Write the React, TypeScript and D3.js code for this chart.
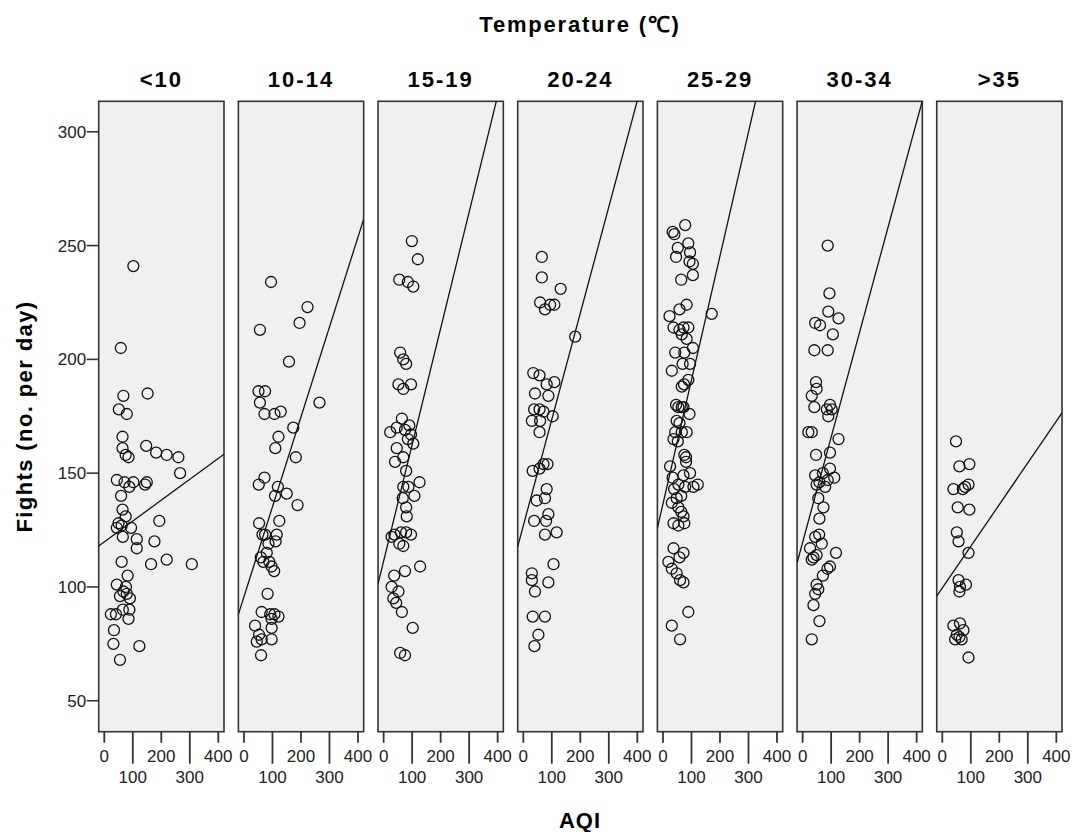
import React from 'react';
import * as d3 from 'd3';

// temperature bands (one panel each)
const bands = ['<10', '10-14', '15-19', '20-24', '25-29', '30-34', '>35'];

// [AQI, fights per day]
const below10 = [
  [102, 241], [58, 205], [152, 185], [67, 184], [51, 178], [79, 176], [64, 166], [64, 161],
  [75, 158], [85, 157], [147, 162], [182, 159], [219, 158], [260, 157], [266, 150], [44, 147],
  [71, 146], [102, 146], [88, 144], [149, 146], [143, 145], [59, 140], [64, 134], [75, 131],
  [50, 128], [44, 126], [61, 127], [94, 126], [65, 122], [114, 121], [193, 129], [176, 120],
  [114, 117], [219, 112], [164, 110], [307, 110], [61, 111], [82, 105], [44, 101], [76, 100],
  [67, 98], [79, 97], [55, 96], [90, 95], [23, 88], [41, 88], [65, 90], [88, 90], [85, 86],
  [34, 81], [32, 75], [123, 74], [55, 68],
];
const band10to14 = [
  [95, 234], [223, 223], [195, 216], [56, 213], [158, 199], [51, 186], [74, 186], [56, 181],
  [129, 177], [107, 176], [72, 176], [265, 181], [173, 170], [121, 166], [110, 161], [182, 157],
  [72, 148], [52, 145], [119, 144], [109, 140], [150, 141], [188, 136], [124, 129], [53, 128],
  [65, 123], [74, 123], [115, 123], [111, 120], [86, 119], [80, 115], [59, 113], [68, 111],
  [97, 109], [106, 107], [89, 111], [83, 97], [62, 89], [92, 88], [107, 88], [97, 86], [121, 87],
  [39, 83], [97, 82], [53, 79], [62, 77], [45, 76], [97, 77], [60, 70],
];
const band15to19 = [
  [99, 252], [120, 244], [55, 235], [85, 234], [104, 232], [58, 203], [69, 200], [79, 198],
  [52, 189], [69, 187], [96, 189], [64, 174], [90, 171], [23, 168], [46, 170], [75, 169],
  [96, 167], [85, 165], [104, 163], [46, 161], [69, 157], [40, 155], [79, 151], [69, 144],
  [87, 144], [126, 146], [108, 140], [67, 139], [79, 135], [81, 131], [38, 123], [61, 124],
  [79, 124], [96, 123], [28, 122], [69, 118], [55, 119], [128, 109], [75, 107], [37, 105],
  [28, 100], [52, 98], [34, 95], [44, 93], [64, 89], [102, 82], [58, 71], [75, 70],
];
const band20to24 = [
  [65, 245], [65, 236], [131, 231], [59, 225], [76, 222], [94, 224], [109, 224], [182, 210],
  [35, 194], [57, 193], [109, 190], [82, 189], [41, 185], [88, 184], [38, 178], [57, 178],
  [71, 177], [30, 173], [59, 173], [103, 175], [57, 168], [71, 154], [85, 154], [33, 151],
  [57, 152], [82, 143], [76, 139], [47, 138], [88, 132], [80, 129], [38, 129], [117, 124],
  [76, 123], [106, 110], [30, 106], [30, 103], [88, 102], [41, 98], [33, 87], [76, 87],
  [53, 79], [39, 74],
];
const band25to29 = [
  [78, 259], [34, 256], [40, 255], [89, 251], [52, 249], [95, 247], [46, 245], [105, 242],
  [93, 243], [64, 235], [105, 237], [83, 224], [58, 222], [23, 219], [171, 220], [37, 214],
  [58, 213], [72, 214], [89, 214], [66, 211], [83, 209], [105, 205], [43, 203], [75, 203],
  [69, 198], [31, 195], [95, 198], [89, 191], [74, 189], [66, 188], [46, 180], [54, 179],
  [66, 179], [72, 179], [93, 176], [48, 173], [58, 172], [43, 168], [66, 168], [83, 168],
  [37, 165], [52, 164], [75, 158], [81, 157], [81, 155], [95, 150], [72, 149], [54, 145],
  [78, 144], [107, 144], [122, 145], [25, 153], [34, 148], [39, 143], [48, 139], [64, 140],
  [31, 137], [54, 135], [64, 133], [72, 131], [37, 128], [54, 127], [75, 128], [37, 117],
  [72, 115], [58, 113], [19, 111], [31, 108], [48, 106], [60, 103], [72, 102], [89, 89],
  [31, 83], [60, 77],
];
const band30to34 = [
  [88, 250], [94, 229], [90, 221], [126, 218], [44, 216], [61, 215], [106, 211], [41, 204],
  [88, 204], [47, 190], [49, 187], [32, 184], [41, 179], [85, 178], [96, 180], [102, 178],
  [90, 175], [20, 168], [32, 168], [126, 165], [47, 158], [96, 159], [44, 149], [71, 150],
  [96, 152], [111, 148], [88, 147], [59, 146], [79, 144], [49, 145], [55, 139], [73, 135],
  [59, 130], [58, 123], [44, 122], [67, 119], [26, 117], [38, 113], [49, 114], [117, 115],
  [32, 112], [96, 109], [87, 108], [71, 105], [49, 101], [55, 99], [44, 97], [38, 92],
  [59, 85], [32, 77],
];
const above35 = [
  [48, 164], [60, 153], [95, 154], [39, 143], [72, 143], [80, 144], [92, 145], [54, 135],
  [95, 134], [51, 124], [57, 120], [92, 115], [57, 103], [62, 100], [83, 101], [60, 98],
  [39, 83], [62, 84], [51, 79], [74, 81], [68, 77], [45, 77], [60, 78], [92, 69],
];
const bandPoints = [below10, band10to14, band15to19, band20to24, band25to29, band30to34, above35];

// linear fit per band: fights = intercept + slope * AQI
const fitIntercepts = [119.8, 95.7, 111.4, 126.9, 136.5, 119.6, 99.6];
const fitSlopes = [0.0917, 0.395, 0.511, 0.467, 0.5446, 0.462, 0.183];

const xTicks = [0, 100, 200, 300, 400];
const yTicks = [50, 100, 150, 200, 250, 300];

const X0 = 98.7;
const STEP = 139.67;
const PW = 125.3;
const TOP = 101.3;
const BOTTOM = 731.7;
const FONT = '"Liberation Sans", Arial, sans-serif';

export default function App() {
  const x = d3.scaleLinear().domain([-19.6, 420]).range([0, PW]);
  const y = d3.scaleLinear().domain([36.4, 313.4]).range([BOTTOM, TOP]);
  const [xMin, xMax] = x.domain();

  return (
    <svg
      width={1072}
      height={832}
      style={{ position: 'absolute', left: 0, top: 0, background: '#fff' }}
      fontFamily={FONT}
    >
      <defs>
        <clipPath id="panel-clip">
          <rect x={0} y={TOP} width={PW} height={BOTTOM - TOP} />
        </clipPath>
      </defs>

      <text x={580} y={32} textAnchor="middle" fontWeight="bold" fontSize={22} letterSpacing={1.8}>
        Temperature (℃)
      </text>

      {/* y axis sits on the first panel only */}
      {yTicks.map(t => (
        <g key={t}>
          <line x1={X0 - 12} x2={X0} y1={y(t)} y2={y(t)} stroke="#333" strokeWidth={1.6} />
          <text x={X0 - 12.5} y={y(t) + 6} textAnchor="end" fontSize={17} fill="#222">
            {t}
          </text>
        </g>
      ))}
      <text
        transform={`translate(32 ${(TOP + BOTTOM) / 2}) rotate(-90)`}
        textAnchor="middle"
        fontWeight="bold"
        fontSize={22}
        letterSpacing={1.4}
      >
        Fights (no. per day)
      </text>

      {bands.map((band, k) => {
        const left = X0 + k * STEP;
        const pts = bandPoints[k];
        const a = fitIntercepts[k];
        const b = fitSlopes[k];
        const linePath = d3
          .line<number>()
          .x(d => x(d))
          .y(d => y(a + b * d))([xMin, xMax]);
        return (
          <g key={band} transform={`translate(${left} 0)`}>
            <text x={PW / 2} y={86.5} textAnchor="middle" fontWeight="bold" fontSize={22} letterSpacing={2}>
              {band}
            </text>
            <rect x={0} y={TOP} width={PW} height={BOTTOM - TOP} fill="#f0f0f0" stroke="#333" strokeWidth={1.6} />
            <g clipPath="url(#panel-clip)">
              {pts.map((p, i) => (
                <circle key={i} cx={x(p[0])} cy={y(p[1])} r={5.5} fill="none" stroke="#111" strokeWidth={1.3} />
              ))}
              <path d={linePath ?? ''} fill="none" stroke="#111" strokeWidth={1.3} />
            </g>
            {xTicks.map((t, i) => {
              const long = i % 2 === 1;
              return (
                <g key={t}>
                  <line
                    x1={x(t)}
                    x2={x(t)}
                    y1={BOTTOM}
                    y2={BOTTOM + (long ? 32 : 11)}
                    stroke="#333"
                    strokeWidth={1.8}
                  />
                  <text x={x(t)} y={long ? 783 : 762} textAnchor="middle" fontSize={17} fill="#222">
                    {t}
                  </text>
                </g>
              );
            })}
          </g>
        );
      })}

      <text x={580} y={828} textAnchor="middle" fontWeight="bold" fontSize={22} letterSpacing={1}>
        AQI
      </text>
    </svg>
  );
}
